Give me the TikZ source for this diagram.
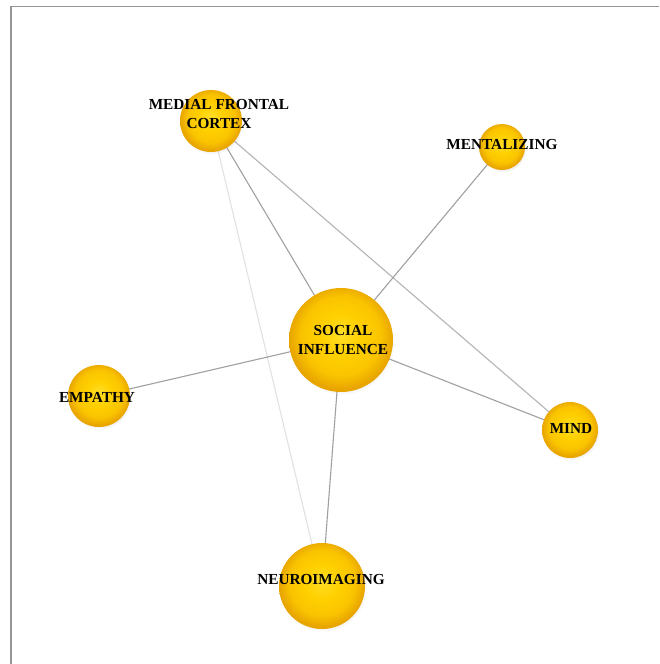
\documentclass[tikz,border=0pt]{standalone}
\usepackage{fontspec}
\setmainfont{Liberation Serif}
\usetikzlibrary{shadows}
\definecolor{ballhi}{RGB}{255,222,40}
\definecolor{ballmid}{RGB}{255,208,0}
\definecolor{ballmid2}{RGB}{250,196,0}
\definecolor{ballrim}{RGB}{232,165,0}
\definecolor{edgegray}{RGB}{160,160,160}
\definecolor{edgelight}{RGB}{180,180,180}
\definecolor{edgefaint}{RGB}{226,226,226}
\definecolor{framegray}{RGB}{150,150,150}
\pgfdeclareradialshading{goldball}{\pgfpoint{0bp}{3bp}}{%
  color(0bp)=(ballhi); color(10bp)=(ballmid); color(19bp)=(ballmid2);
  color(25bp)=(ballrim); color(50bp)=(ballrim)}
\begin{document}
\begin{tikzpicture}[x=1pt,y=-1pt,
  ball/.style={circle,inner sep=0pt,minimum size=#1,shading=goldball,
    circular drop shadow={shadow xshift=1pt,shadow yshift=-2pt,opacity=0.15,shadow scale=1.02}},
  term/.style={font=\fontsize{15.3}{19.5}\selectfont\bfseries,align=center,text=black,inner sep=0pt},
  link/.style={draw=edgegray,line width=1.1pt},
  linklight/.style={draw=edgelight,line width=1.1pt},
  linkfaint/.style={draw=edgefaint,line width=1.1pt}]
\useasboundingbox (0,0) rectangle (659,664);
\fill[white] (0,0) rectangle (659,664);
% frame
\draw[framegray,line width=1.6pt] (11,664) -- (11,6.5) -- (659,6.5);
% centres of the balls
\coordinate (pmfc) at (211,121);
\coordinate (pment) at (502,147);
\coordinate (psoc) at (341,340);
\coordinate (pemp) at (99,396);
\coordinate (pmind) at (570,430);
\coordinate (pneuro) at (322,586);
% connectors
\draw[linkfaint] (pmfc) -- (pneuro);
\draw[linklight] (pmfc) -- (pmind);
\draw[link] (pmfc) -- (psoc);
\draw[link] (pment) -- (psoc);
\draw[link] (psoc) -- (pemp);
\draw[link] (psoc) -- (pmind);
\draw[link] (psoc) -- (pneuro);
% balls
\node[ball=62pt] (mfc) at (pmfc) {};
\node[ball=46pt] (ment) at (pment) {};
\node[ball=104pt] (soc) at (psoc) {};
\node[ball=62pt] (emp) at (pemp) {};
\node[ball=56pt] (mind) at (pmind) {};
\node[ball=86pt] (neuro) at (pneuro) {};
% labels
\node[term] (tmfc) at (219,114) {MEDIAL FRONTAL\\CORTEX};
\node[term] (tment) at (502,145) {MENTALIZING};
\node[term] (tsoc) at (343,340) {SOCIAL\\INFLUENCE};
\node[term] (temp) at (97,397) {EMPATHY};
\node[term] (tmind) at (571,429) {MIND};
\node[term] (tneuro) at (321,580) {NEUROIMAGING};
\end{tikzpicture}
\end{document}
